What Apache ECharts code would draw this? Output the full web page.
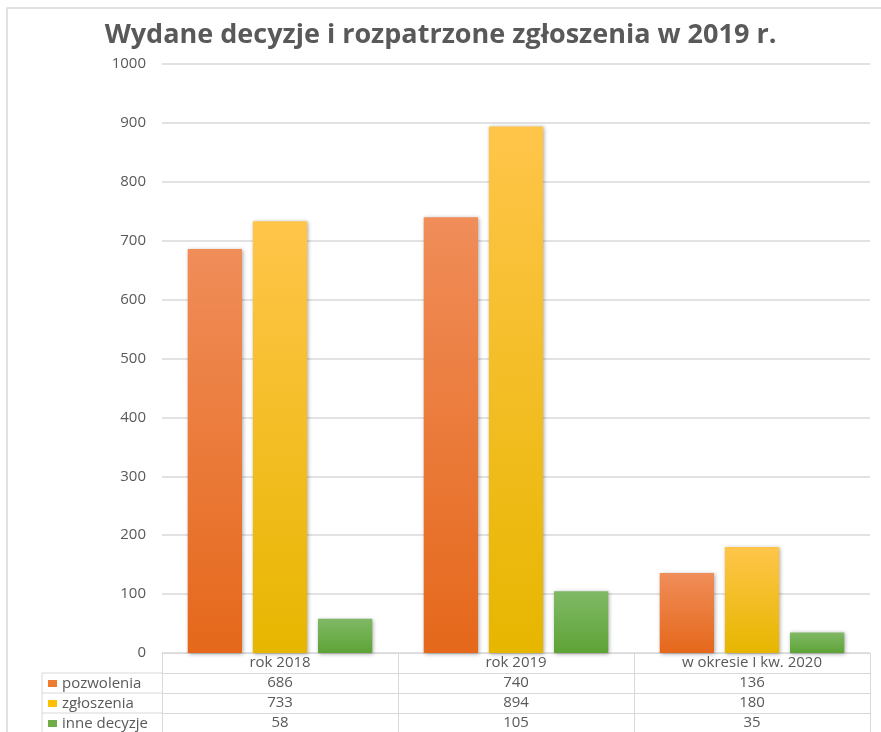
<!DOCTYPE html>
<html>
<head>
<meta charset="utf-8">
<script src="https://cdn.jsdelivr.net/npm/echarts@6/dist/echarts.min.js"></script>
<style>
  html, body { margin: 0; padding: 0; background: #fff; }
  #chart { width: 881px; height: 732px; }
</style>
</head>
<body>
<div id="chart"></div>
<script>
const categories = ['rok 2018', 'rok 2019', 'w okresie I kw. 2020']
const seriesNames = ['pozwolenia', 'zgłoszenia', 'inne decyzje']
const pozwolenia = [686, 740, 136]
const zgloszenia = [733, 894, 180]
const inneDecyzje = [58, 105, 35]
const yTicks = [0, 100, 200, 300, 400, 500, 600, 700, 800, 900, 1000]

const allValues = [pozwolenia, zgloszenia, inneDecyzje]
const legendColors = ['#ED7D31', '#FFC000', '#70AD47']
const gradients = [
  ['#F08D59', '#E5681B'],
  ['#FFC54A', '#E7B600'],
  ['#80B966', '#5EA336']
]

const font = '"Open Sans", "Liberation Sans", sans-serif'
const textColor = '#595959'
const lineColor = '#D9D9D9'

const chart = echarts.init(document.getElementById('chart'))

const gridLeft = 162
const gridBottom = 79
const rowH = 20

// category row + one table row per series, all as x axes
const xAxes = [{
  type: 'category',
  data: categories,
  position: 'bottom',
  axisLine: { show: true, lineStyle: { color: lineColor } },
  axisTick: { show: true, length: rowH, lineStyle: { color: lineColor } },
  axisLabel: { interval: 0, margin: 2, color: textColor, fontSize: 15, fontFamily: font }
}]
allValues.forEach((vals, i) => {
  xAxes.push({
    type: 'category',
    data: vals.map(String),
    position: 'bottom',
    offset: rowH * (i + 1),
    axisLine: { show: true, lineStyle: { color: lineColor } },
    axisTick: { show: true, length: rowH, lineStyle: { color: lineColor } },
    axisLabel: { interval: 0, margin: 2, color: textColor, fontSize: 15, fontFamily: font }
  })
})

const series = allValues.map((vals, i) => ({
  name: seriesNames[i],
  type: 'bar',
  xAxisIndex: 0,
  data: vals,
  barWidth: '23%',
  barGap: '20%',
  itemStyle: {
    color: new echarts.graphic.LinearGradient(0, 0, 0, 1, [
      { offset: 0, color: gradients[i][0] },
      { offset: 1, color: gradients[i][1] }
    ]),
    shadowBlur: 4,
    shadowColor: 'rgba(0,0,0,0.35)',
    shadowOffsetX: 1,
    shadowOffsetY: 1
  },
  animation: false
}))

// legend column of the data table
const legendGraphics = [
  { type: 'rect', shape: { x: 7, y: 8, width: 900, height: 800 }, style: { fill: 'none', stroke: lineColor, lineWidth: 1.5 }, silent: true },
  { type: 'line', shape: { x1: 42, y1: 653 + rowH, x2: 42, y2: 740 }, style: { stroke: lineColor } }
]
seriesNames.forEach((name, i) => {
  const top = 653 + rowH * (i + 1)
  legendGraphics.push({ type: 'line', shape: { x1: 42, y1: top, x2: gridLeft, y2: top }, style: { stroke: lineColor } })
  legendGraphics.push({ type: 'rect', shape: { x: 48, y: top + 7, width: 9, height: 7 }, style: { fill: legendColors[i] } })
  legendGraphics.push({
    type: 'text', x: 62, y: top + rowH / 2 + 1,
    style: { text: name, fill: textColor, font: '15px ' + font, verticalAlign: 'middle' }
  })
})

chart.setOption({
  animation: false,
  title: {
    text: 'Wydane decyzje i rozpatrzone zgłoszenia w 2019 r.',
    left: 'center',
    top: 17,
    textStyle: { fontSize: 27, fontWeight: 'bold', color: textColor, fontFamily: font }
  },
  grid: { left: gridLeft, right: 11, top: 64, bottom: gridBottom },
  xAxis: xAxes,
  yAxis: {
    type: 'value',
    min: yTicks[0],
    max: yTicks[yTicks.length - 1],
    interval: 100,
    axisLine: { show: false },
    axisTick: { show: false },
    axisLabel: { margin: 16, color: textColor, fontSize: 15, fontFamily: font, formatter: v => String(v) },
    splitLine: { lineStyle: { color: lineColor, width: 1.5 } }
  },
  series,
  graphic: legendGraphics
})
</script>
</body>
</html>
